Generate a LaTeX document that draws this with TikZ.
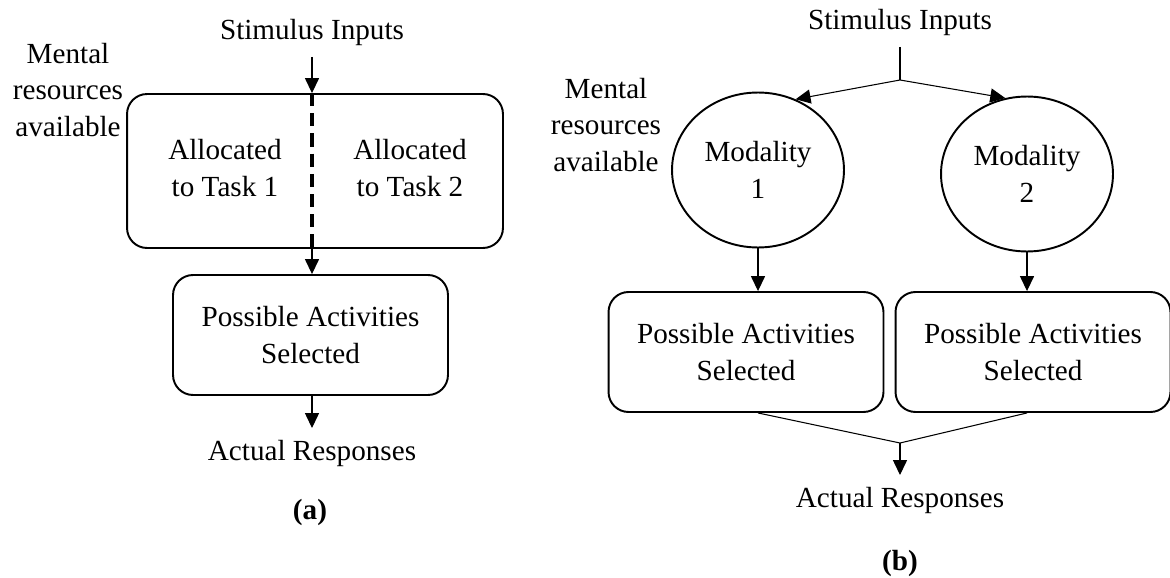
\documentclass[tikz,border=0pt]{standalone}
\usepackage{fontspec}
\setmainfont{Liberation Serif}
\usetikzlibrary{arrows.meta, shapes.geometric}

\begin{document}
\begin{tikzpicture}[x=0.02cm, y=-0.02cm, >={Triangle[length=8.5pt, width=8pt]},
    every node/.style={font=\fontsize{16.6}{21}\selectfont},
    box/.style={draw, line width=1.1pt, rounded corners=0.4cm, minimum width=5.5cm, minimum height=2.4cm, align=center},
    modality/.style={draw, ellipse, line width=1.1pt, minimum width=3.44cm, minimum height=3.1cm, align=center, inner sep=0pt},
    lbl/.style={align=center, inner sep=6.5pt},
    link/.style={line width=0.6pt}]
    \useasboundingbox (0,0) rectangle (1170,578);

    % (a)
    \node[lbl] (stimA) at (312,32) {Stimulus Inputs};
    \node[lbl] (mentalA) at (68,90) {Mental\\resources\\available};
    \node[draw, line width=1.1pt, rounded corners=0.4cm, minimum width=7.52cm, minimum height=3.08cm] (alloc) at (315,171) {};
    \node[lbl] (taskOne) at (225,168) {Allocated\\to Task 1};
    \node[lbl] (taskTwo) at (410,168) {Allocated\\to Task 2};
    \node[box] (possA) at (310.5,335) {Possible Activities\\Selected};
    \node[lbl] (respA) at (312,453) {Actual Responses};
    \node[lbl] (capA) at (310,512) {\textbf{(a)}};
    \draw[link, ->] (stimA.south) -- (stimA.south |- alloc.north);
    \draw[line width=2.2pt, dash pattern=on 7.5pt off 4pt] (stimA.south |- alloc.north) -- (stimA.south |- alloc.south);
    \draw[link, ->] (stimA.south |- alloc.south) -- (stimA.south |- possA.north);
    \draw[link, ->] (stimA.south |- possA.south) -- (respA.north);

    % (b)
    \node[lbl] (stimB) at (900,22) {Stimulus Inputs};
    \node[lbl] (mentalB) at (606,125) {Mental\\resources\\available};
    \node[modality] (modOne) at (758,170) {Modality\\1};
    \node[modality] (modTwo) at (1027,174) {Modality\\2};
    \node[box] (pbOne) at (746,352) {Possible Activities\\Selected};
    \node[box] (pbTwo) at (1033,352) {Possible Activities\\Selected};
    \node[lbl] (respB) at (900,500) {Actual Responses};
    \node[lbl] (capB) at (900,563) {\textbf{(b)}};
    \coordinate (split) at (900,80);
    \coordinate (merge) at (900,443);
    \draw[link] (stimB.south) -- (split);
    \draw[link, ->] (split) -- (modOne.62);
    \draw[link, ->] (split) -- (modTwo.106);
    \draw[link, ->] (modOne.south) -- (modOne.south |- pbOne.north);
    \draw[link, ->] (modTwo.south) -- (modTwo.south |- pbTwo.north);
    \draw[link] (modOne.south |- pbOne.south) -- (merge) -- (modTwo.south |- pbTwo.south);
    \draw[link, ->] (merge) -- (respB.north);
\end{tikzpicture}
\end{document}
